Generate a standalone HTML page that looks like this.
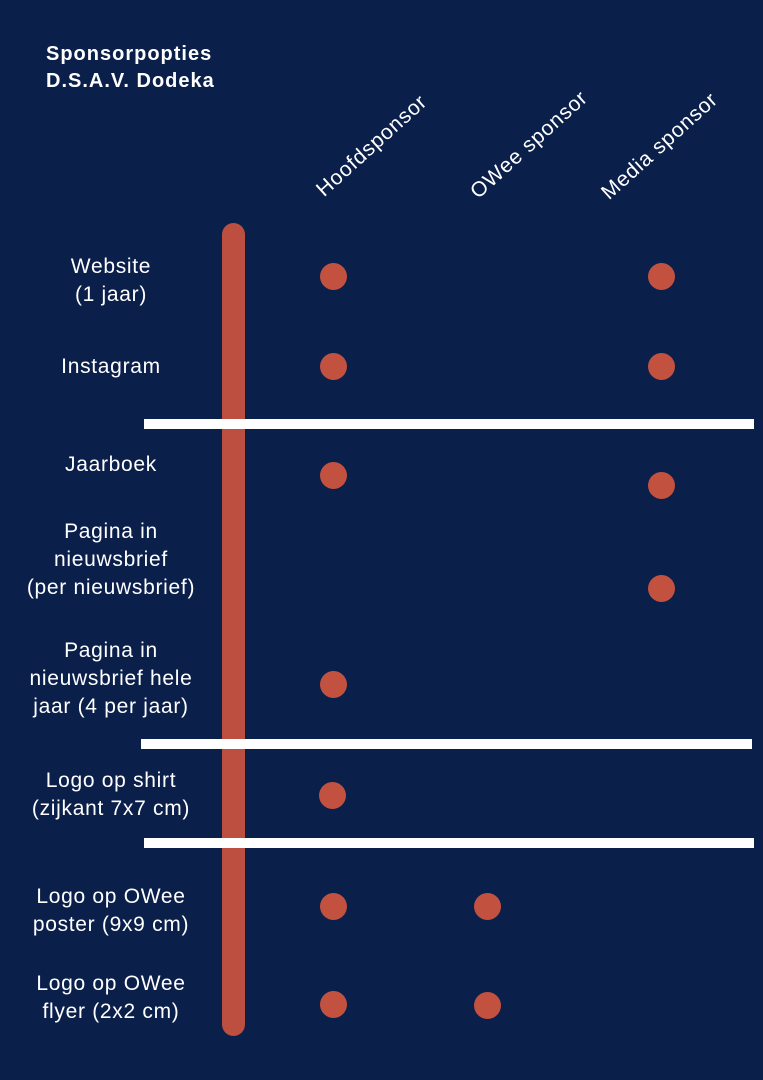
<!DOCTYPE html>
<html><head><style>
body{margin:0;width:763px;height:1080px;background:#0b1f4b;position:relative;overflow:hidden;font-family:"Liberation Sans",sans-serif;color:#fff}
.t{position:absolute;left:46px;top:41px;font-weight:bold;font-size:20px;line-height:27px;letter-spacing:1px}
.bar{position:absolute;left:222px;top:223px;width:23px;height:813px;border-radius:12px;background:#bc4f40}
.ln{position:absolute;height:10px;background:#fff}
.d{position:absolute;width:27px;height:27px;border-radius:50%;background:#c2523f;margin:-13px 0 0 -13px}
.l{position:absolute;left:0;width:222px;text-align:center;font-size:21px;line-height:28px;letter-spacing:0.7px}
.h{position:absolute;font-size:21px;transform-origin:0 100%;transform:rotate(-42deg);white-space:nowrap;letter-spacing:0.8px}
</style></head><body>
<div class="t">Sponsorpopties<br>D.S.A.V. Dodeka</div>
<div class="h" style="left:328px;top:178px">Hoofdsponsor</div>
<div class="h" style="left:482px;top:180px">OWee sponsor</div>
<div class="h" style="left:613px;top:181px">Media sponsor</div>
<div class="bar"></div>
<div class="ln" style="left:144px;top:419px;width:610px"></div>
<div class="ln" style="left:141px;top:739px;width:611px"></div>
<div class="ln" style="left:144px;top:838px;width:610px"></div>
<div class="l" style="top:253px">Website<br>(1 jaar)</div>
<div class="l" style="top:353px">Instagram</div>
<div class="l" style="top:451px">Jaarboek</div>
<div class="l" style="top:518px">Pagina in<br>nieuwsbrief<br>(per nieuwsbrief)</div>
<div class="l" style="top:637px">Pagina in<br>nieuwsbrief hele<br>jaar (4 per jaar)</div>
<div class="l" style="top:767px">Logo op shirt<br>(zijkant 7x7 cm)</div>
<div class="l" style="top:883px">Logo op OWee<br>poster (9x9 cm)</div>
<div class="l" style="top:970px">Logo op OWee<br>flyer (2x2 cm)</div>
<div class="d" style="left:333px;top:276px"></div><div class="d" style="left:661px;top:276px"></div>
<div class="d" style="left:333px;top:366px"></div><div class="d" style="left:661px;top:366px"></div>
<div class="d" style="left:333px;top:475px"></div><div class="d" style="left:661px;top:485px"></div>
<div class="d" style="left:661px;top:588px"></div>
<div class="d" style="left:333px;top:684px"></div>
<div class="d" style="left:332px;top:795px"></div>
<div class="d" style="left:333px;top:906px"></div><div class="d" style="left:487px;top:906px"></div>
<div class="d" style="left:333px;top:1004px"></div><div class="d" style="left:487px;top:1005px"></div>
</body></html>
